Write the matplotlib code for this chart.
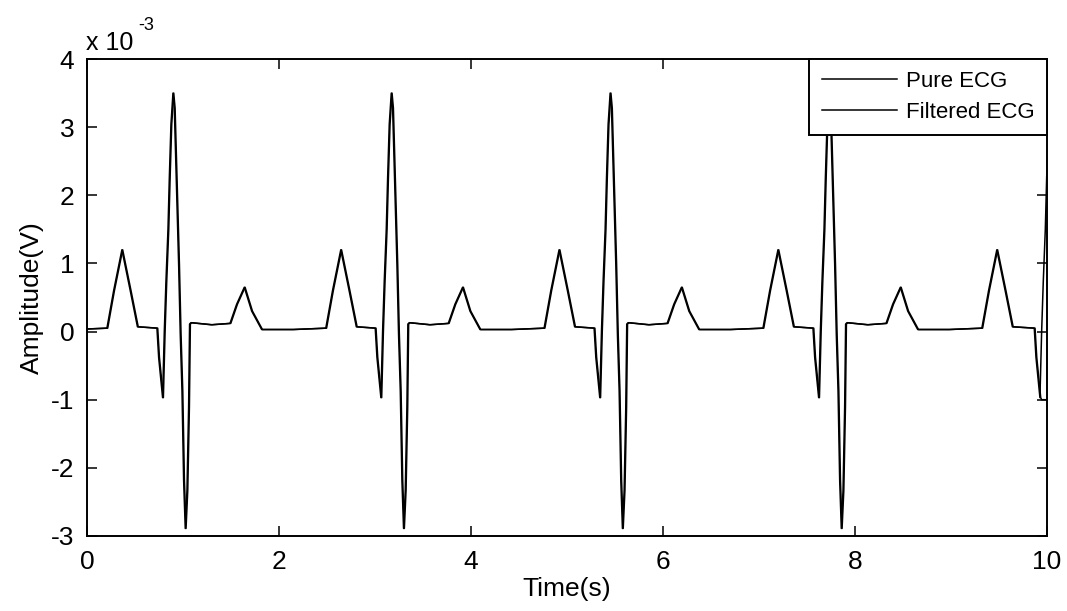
import numpy as np
import matplotlib
matplotlib.use("Agg")
import matplotlib.pyplot as plt

plt.rcParams['font.family'] = ['Liberation Sans', 'DejaVu Sans']
plt.rcParams['axes.unicode_minus'] = False

# One heartbeat, times relative to the R peak (s), amplitude in units of 1e-3 V
beat_offset_s = [-0.167, -0.149, -0.125, -0.108, -0.090, -0.073, -0.052, -0.038,
                 -0.021, 0.000, 0.014, 0.035, 0.059, 0.076, 0.094, 0.111, 0.128,
                 0.146, 0.163, 0.173, 0.187, 0.400, 0.594, 0.663, 0.743, 0.820,
                 0.924, 1.250, 1.592, 1.662, 1.748, 1.835, 1.910]
beat_amp = [0.05, -0.38, -0.72, -0.97, 0.01, 0.74, 1.50, 2.25,
            3.04, 3.50, 3.28, 2.21, 0.99, -0.04, -0.87, -2.18, -2.89,
            -2.33, -1.11, 0.11, 0.13, 0.10, 0.12, 0.40, 0.65, 0.30,
            0.03, 0.03, 0.05, 0.60, 1.20, 0.60, 0.07]

# R-peak instants of the pure and filtered recordings (s)
pure_r_peaks = [-1.384, 0.896, 3.170, 5.450, 7.730, 10.035]
filtered_r_peaks = [-1.376, 0.904, 3.178, 5.458, 7.738, 10.043]
# filtered record holds its last sample to the end of the window
filtered_tail_t = [9.945, 10.0]
filtered_tail_amp = [-1.0, -1.0]

x_ticks = [0, 2, 4, 6, 8, 10]
y_ticks = [-3, -2, -1, 0, 1, 2, 3, 4]

bt = np.array(beat_offset_s)
ba = np.array(beat_amp)

def assemble(peaks, stop_index=None):
    ts, vs = [], []
    for i, r in enumerate(peaks):
        if stop_index is not None and i == len(peaks) - 1:
            ts.append(bt[:stop_index + 1] + r)
            vs.append(ba[:stop_index + 1])
        else:
            ts.append(bt + r)
            vs.append(ba)
    return np.concatenate(ts), np.concatenate(vs)

t_pure, v_pure = assemble(pure_r_peaks)
t_filt, v_filt = assemble(filtered_r_peaks, stop_index=3)
t_filt = np.concatenate([t_filt, filtered_tail_t])
v_filt = np.concatenate([v_filt, filtered_tail_amp])

fig = plt.figure(figsize=(10.67, 6.11), dpi=100)
ax = fig.add_axes([0.0815, 0.1228, 0.8997, 0.7806])

ax.plot(t_pure, v_pure, color='black', lw=1.1, label='Pure ECG')
ax.plot(t_filt, v_filt, color='black', lw=1.1, label='Filtered ECG')

ax.set_xlim(0, 10)
ax.set_ylim(-3, 4)
ax.set_xticks(x_ticks)
ax.set_yticks(y_ticks)
ax.tick_params(direction='in', length=7, width=1.1, top=True, right=True,
               labelsize=19, colors='black')
ax.tick_params(axis='x', pad=10)
ax.tick_params(axis='y', pad=9)
for s in ax.spines.values():
    s.set_linewidth(1.4)

ax.set_xlabel('Time(s)', fontsize=19, labelpad=2)
ax.set_ylabel('Amplitude(V)', fontsize=19, labelpad=5)

# axis multiplier shown above the y axis
fig.text(0.0806, 0.918, 'x 10', fontsize=18, va='baseline', ha='left')
fig.text(0.1295, 0.951, '-3', fontsize=13, va='baseline', ha='left')

leg = ax.legend(loc='upper right', fontsize=16, frameon=True, fancybox=False,
                framealpha=1, edgecolor='black', borderaxespad=0,
                handlelength=3.4, handletextpad=0.4, labelspacing=0.45,
                borderpad=0.55)
leg.get_frame().set_linewidth(1.4)

fig.savefig('out.png', dpi=100, facecolor='white')
